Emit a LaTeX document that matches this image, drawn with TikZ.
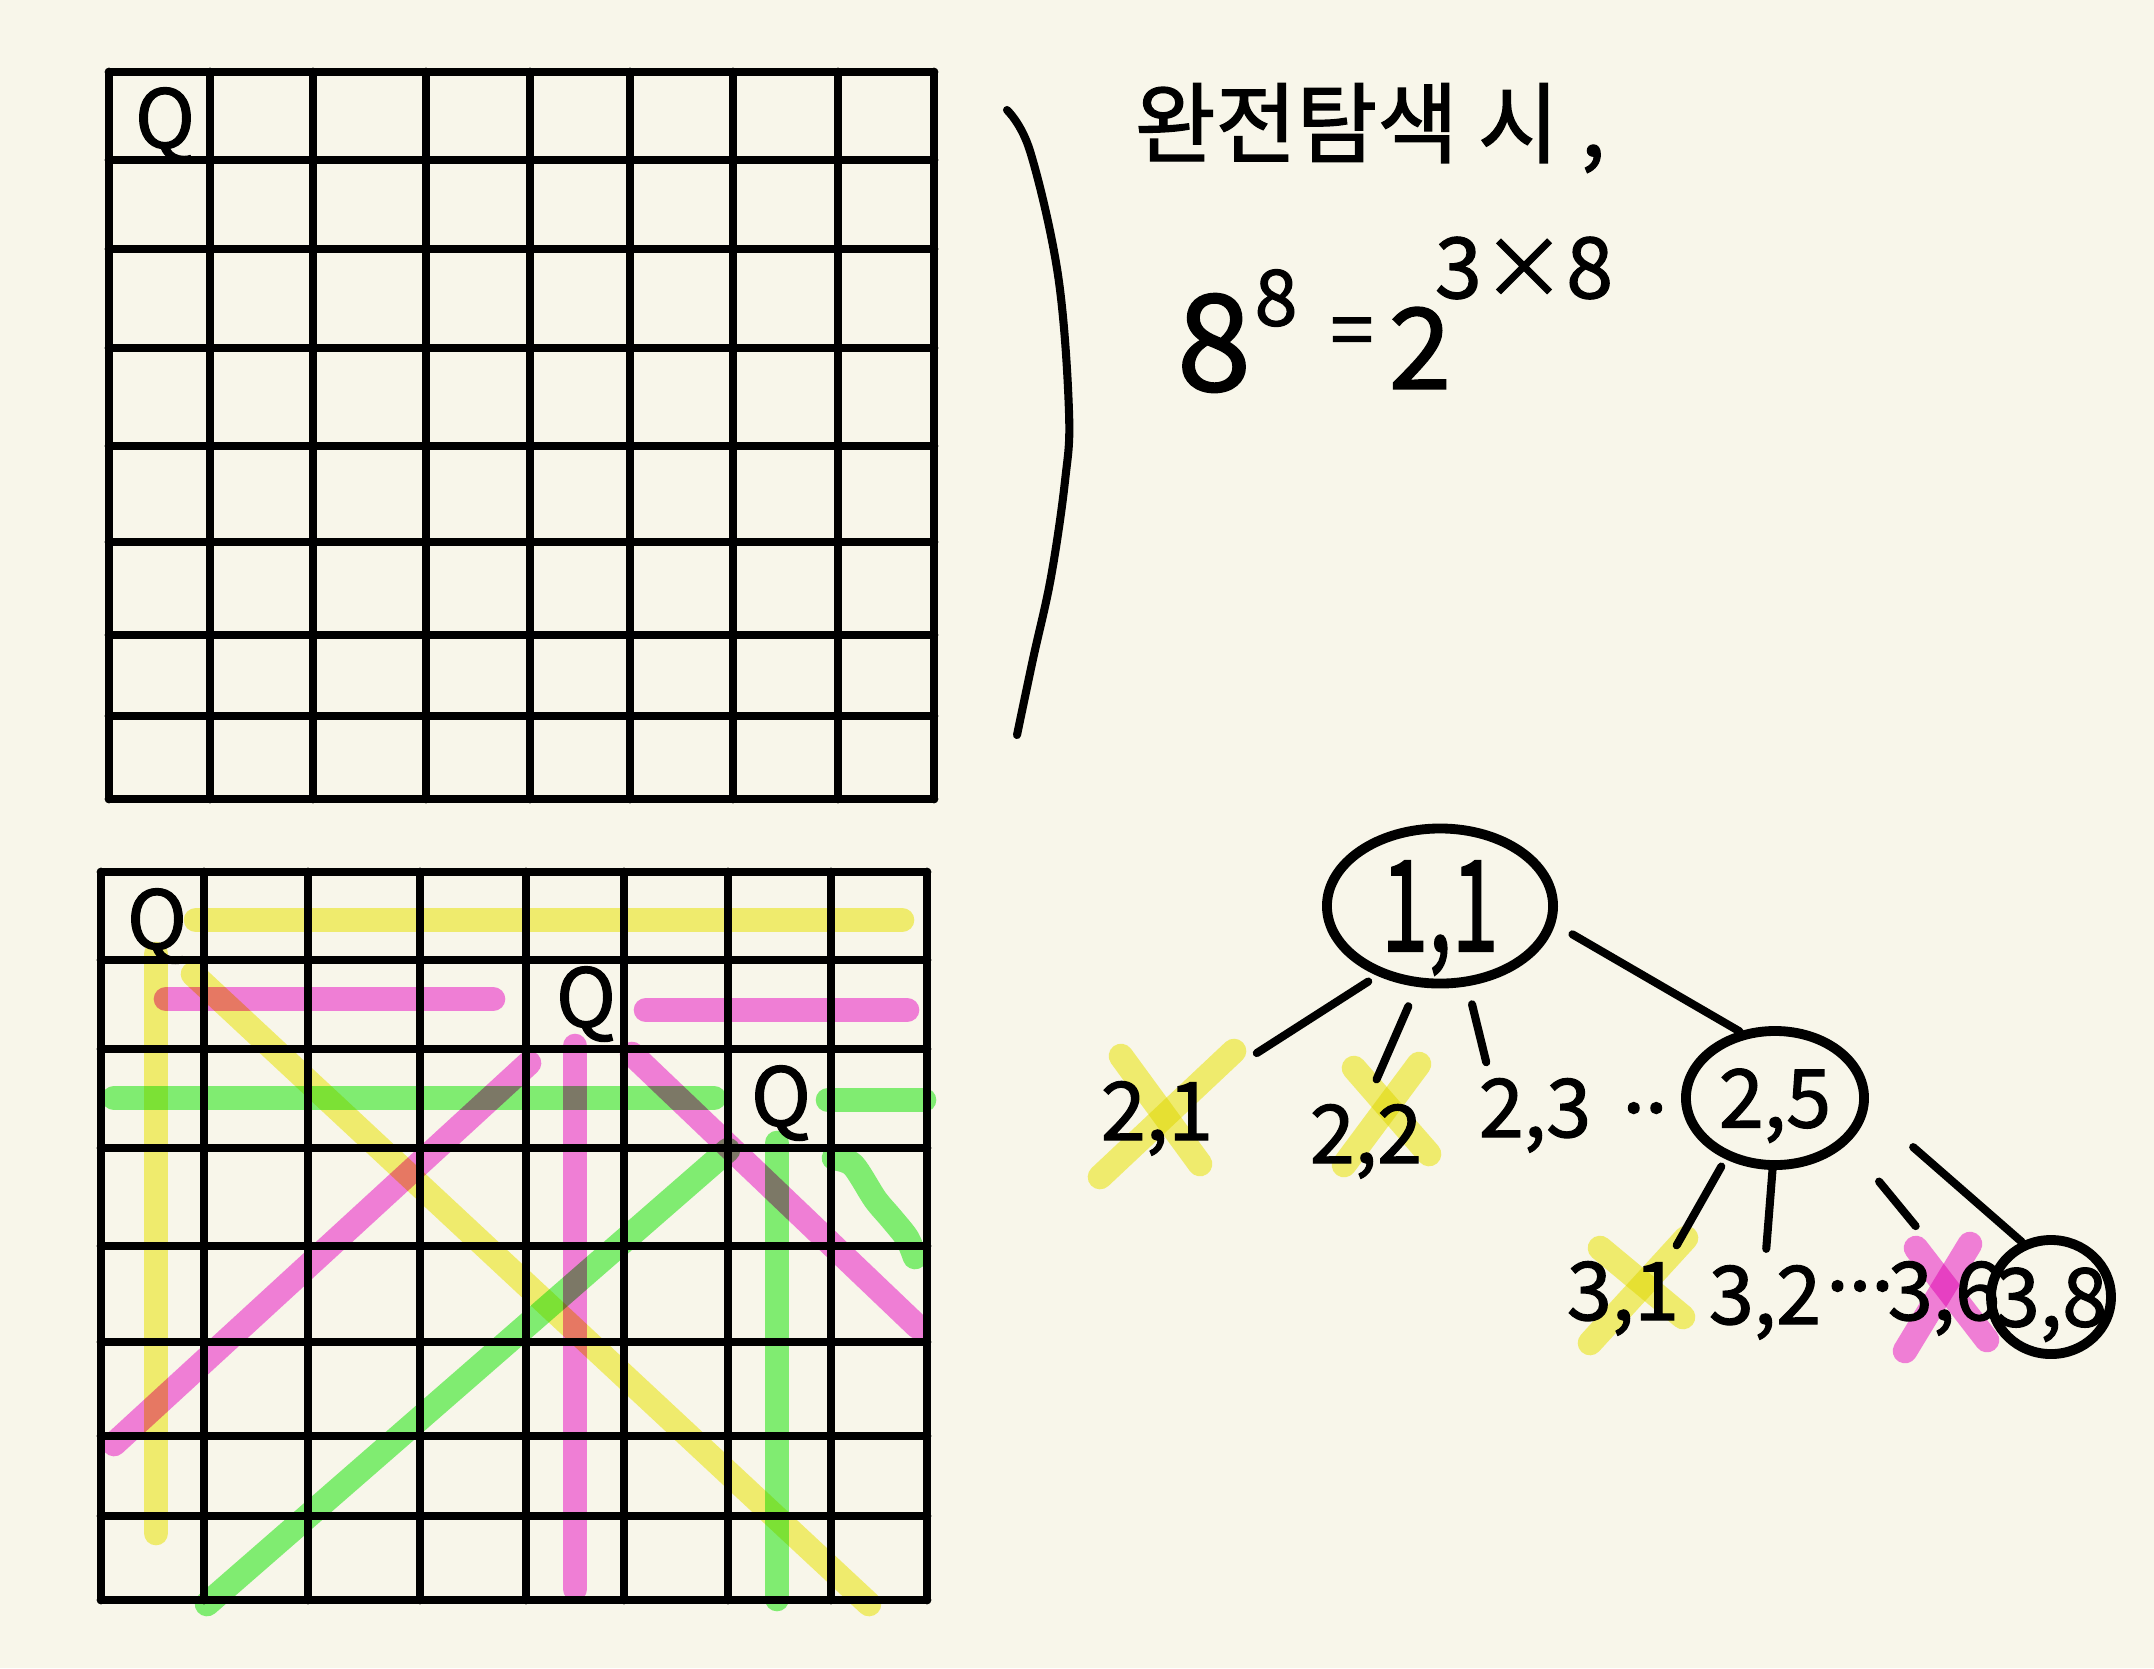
\documentclass[tikz,border=0pt]{standalone}
\usepackage{fontspec}
\setmainfont{Noto Sans CJK KR}[FakeBold=1.5]
\usetikzlibrary{shapes.geometric}
\definecolor{paper}{RGB}{248,246,234}
\definecolor{hiyellow}{RGB}{246,243,105}
\definecolor{himagenta}{RGB}{246,118,230}
\definecolor{higreen}{RGB}{120,244,110}
\newcommand{\zbox}[1]{\makebox[0pt]{\smash{\raisebox{-0.5\height}{#1}}}}
\begin{document}
\begin{tikzpicture}[x=0.01cm,y=-0.01cm,
  gridline/.style={line width=2.5pt,line cap=round,line join=round},
  hl/.style={line width=7pt,line cap=round,opacity=0.9},
  hly/.style={hl,draw=hiyellow},
  hlm/.style={hl,draw=himagenta},
  hlg/.style={hl,draw=higreen},
  pen/.style={line width=2.3pt,line cap=round},
  bubble/.style={draw,ellipse,line width=2.8pt,inner sep=0pt,font=\fontsize{23}{23}\selectfont},
  lbl/.style={inner sep=0pt,anchor=base,font=\fontsize{23}{23}\selectfont},
  dots/.style={inner sep=0pt,font=\fontsize{23}{23}\selectfont},
  queen/.style={inner sep=0pt,font=\fontsize{23}{23}\selectfont},
  txt/.style={inner sep=0pt}]
\fill[paper] (0,0) rectangle (2154,1668);
\useasboundingbox (0,0) rectangle (2154,1668);

% top board
\foreach \x in {109,210,313,426,530,630,733,838,934} \draw[gridline] (\x,72) -- (\x,799);
\foreach \y in {72,160,249,348,446,542,635,716,799} \draw[gridline] (109,\y) -- (934,\y);
\node[queen] (qa) at (165,125) {Q};

% bottom board
\foreach \x in {101,204,308,420,526,624,728,831,927} \draw[gridline] (\x,872) -- (\x,1600);
\foreach \y in {872,960,1049,1148,1246,1342,1436,1516,1600} \draw[gridline] (101,\y) -- (927,\y);
\node[queen] (qb) at (157,926) {Q};
\node[queen] (qc) at (586,1004) {Q};
\node[queen] (qd) at (781,1103) {Q};

% bracket
\draw[pen] plot[smooth,tension=0.6] coordinates {(1007,110) (1030,151) (1058,275) (1069,412) (1065,481) (1051,577) (1033,659) (1017,735)};

% text
\node[txt,font=\fontsize{25}{25}\selectfont] (title) at (1370,128) {완전탐색 시\hspace{0.25em},};
\node[txt,font=\fontsize{38}{38}\selectfont] (fa) at (1214,343) {8};
\node[txt,font=\fontsize{22}{22}\selectfont] (fb) at (1276,298) {8};
\node[txt,font=\fontsize{22}{22}\selectfont] (fc) at (1352,338) {=};
\node[txt,font=\fontsize{32}{32}\selectfont] (fd) at (1420,348) {2};
\node[txt,font=\fontsize{24}{24}\selectfont] (fe) at (1524,268) {3×8};

% tree
\node[bubble,minimum width=2.26cm,minimum height=1.55cm] (root) at (1440,906) {\zbox{\scalebox{1}[1.5]{\fontsize{24}{24}\selectfont 1,1}}};
\node[bubble,minimum width=1.78cm,minimum height=1.34cm] (n25) at (1775,1098) {\zbox{2,5}};
\node[bubble,minimum width=1.2cm,minimum height=1.14cm] (n38) at (2051,1297) {\zbox{3,8}};
\node[lbl] (n21) at (1157,1140) {2,1};
\node[lbl] (n22) at (1366,1163) {2,2};
\node[lbl] (n23) at (1535,1137) {2,3};
\node[dots] (d1) at (1645,1108) {..};
\node[lbl] (n31) at (1623,1320) {3,1};
\node[lbl] (n32) at (1765,1324) {3,2};
\node[dots] (d2) at (1860,1286) {...};
\node[lbl] (n36) at (1944,1320) {3,6};

\draw[pen,shorten <=3pt,shorten >=14.5pt] (root.228) -- (n21.north east);
\draw[pen,shorten <=6pt,shorten >=7.5pt] (root.254) -- (n22.north);
\draw[pen,shorten <=5.3pt,shorten >=4.5pt] (root.289) -- (n23.140);
\draw[pen,shorten <=5.7pt] (root.-9) -- (n25.118);
\draw[pen,shorten <=2.4pt,shorten >=5pt] (n25.231) -- (n31.40);
\draw[pen,shorten >=4.5pt] (n25.268) -- (n32.north);
\draw[pen,shorten <=14pt,shorten >=12.7pt] (n25.-32) -- (n36.north);
\draw[pen,shorten <=17pt] (n25.-6) -- (n38.118);

% highlights
\begin{scope}[blend mode=multiply]
\draw[hly] (196,920) -- (902,920);
\draw[hly] (156,954) -- (156,1533);
\draw[hly] (193,974) -- (869,1604);
\draw[hlm] (166,999) -- (493,999);
\draw[hlm] (646,1010) -- (907,1010);
\draw[hlm] (575,1046) -- (575,1589);
\draw[hlm] (529,1063) -- (114,1444);
\draw[hlm] (632,1054) -- (918,1327);
\draw[hlg] (114,1098) -- (714,1098);
\draw[hlg] (828,1100) -- (924,1100);
\draw[hlg] (777,1143) -- (777,1599);
\draw[hlg] (728,1150) -- (207,1604);
\draw[hlg] plot[smooth] coordinates {(834,1158) (853,1165) (875,1199) (891,1218) (907,1238) (915,1257)};
% crosses in the tree
\draw[hly] (1121,1056) -- (1200,1164);
\draw[hly] (1234,1051) -- (1100,1177);
\draw[hly] (1354,1068) -- (1429,1154);
\draw[hly] (1419,1064) -- (1344,1165);
\draw[hly] (1600,1248) -- (1683,1317);
\draw[hly] (1686,1238) -- (1590,1343);
\draw[hlm] (1916,1248) -- (1987,1340);
\draw[hlm] (1970,1244) -- (1905,1351);
\end{scope}
\end{tikzpicture}
\end{document}
